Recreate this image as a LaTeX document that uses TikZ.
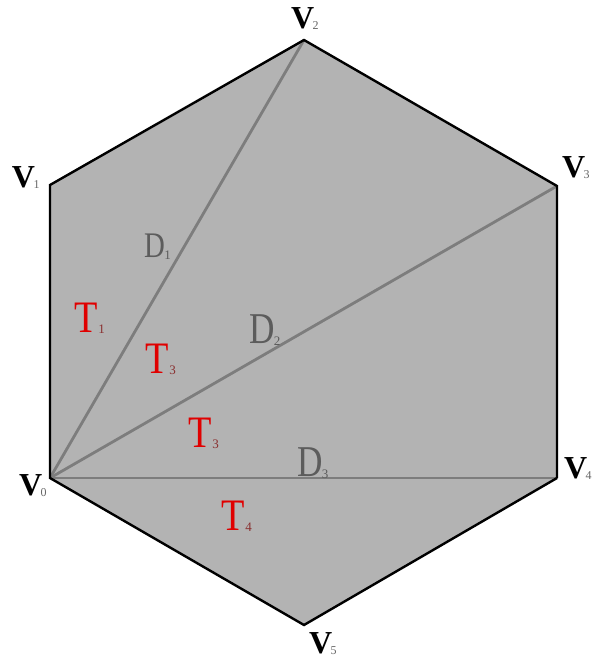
\documentclass[tikz,border=0pt]{standalone}
\usepackage{fontspec}
\setmainfont{Liberation Serif}
\usepackage{graphicx}
\definecolor{hexfill}{HTML}{B3B3B3}
\definecolor{diagcol}{HTML}{7D7D7D}
\definecolor{dcol}{HTML}{5C5C5C}
\definecolor{tcol}{HTML}{E00000}
\definecolor{tsub}{HTML}{8A3030}
\definecolor{vsub}{HTML}{666666}
\newcommand{\vlab}[1]{\fontsize{32}{32}\selectfont\textbf{V}\kern-1.5pt{\fontsize{12}{12}\selectfont\color{vsub}\raisebox{-1pt}{#1}}}
\newcommand{\dlab}[2]{\fontsize{#2}{#2}\selectfont\color{dcol}\scalebox{0.8}[1]{D}\kern-0.5pt{\fontsize{13}{13}\selectfont\raisebox{-2pt}{#1}}}
\newcommand{\tlab}[1]{\fontsize{45}{45}\selectfont\color{tcol}\scalebox{0.85}[1]{T}\kern1pt{\fontsize{13}{13}\selectfont\color{tsub}\raisebox{-1.5pt}{#1}}}
\begin{document}
\begin{tikzpicture}[x=1pt,y=-1pt,
  edge/.style={draw=black,line width=2.4pt,line join=miter},
  diag/.style={draw=diagcol,line width=2.8pt},
  lab/.style={anchor=base west,inner sep=0pt,outer sep=0pt}]
\useasboundingbox (0,0) rectangle (594,660);
\coordinate (V0) at (50,478);
\coordinate (V1) at (50,185);
\coordinate (V2) at (304,40);
\coordinate (V3) at (557,186);
\coordinate (V4) at (557,478);
\coordinate (V5) at (304,625);
\fill[hexfill] (V0)--(V1)--(V2)--(V3)--(V4)--(V5)--cycle;
\draw[diag] (V0)--(V2);
\draw[diag] (V0)--(V3);
\draw[diag] (V0)--(V4);
\draw[edge] (V4)--(V5)--(V0)--(V1)--(V2)--(V3)--(V4);
\node[lab] (L0) at (19,495) {\vlab{0}};
\node[lab] (L1) at (12,188) {\vlab{1}};
\node[lab] (L2) at (291,29) {\vlab{2}};
\node[lab] (L3) at (562,178) {\vlab{3}};
\node[lab] (L4) at (564,478) {\vlab{4}};
\node[lab] (L5) at (309,653) {\vlab{5}};
\node[lab] (D1) at (144,257) {\dlab{1}{36}};
\node[lab] (D2) at (249,343) {\dlab{2}{44}};
\node[lab] (D3) at (297,476) {\dlab{3}{44}};
\node[lab] (T1) at (74,332) {\tlab{1}};
\node[lab] (T3a) at (145,373) {\tlab{3}};
\node[lab] (T3b) at (188,447) {\tlab{3}};
\node[lab] (T4) at (221,530) {\tlab{4}};
\end{tikzpicture}
\end{document}
